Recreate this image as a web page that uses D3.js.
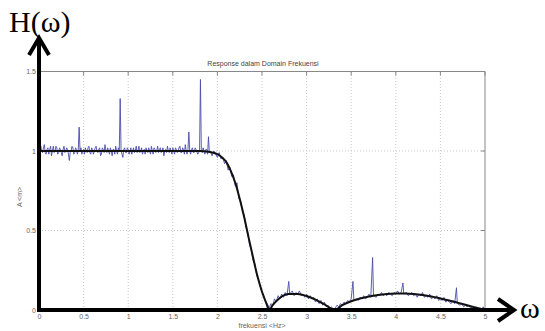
<!DOCTYPE html>
<html>
<head>
<meta charset="utf-8">
<script src="https://cdn.jsdelivr.net/npm/d3@7"></script>
<style>
  body { margin: 0; background: #fff; }
  svg { display: block; }
  .tick text { fill: #666; font-family: Arial, "Liberation Sans", sans-serif; font-size: 7px; }
</style>
</head>
<body>
<div class="chart"></div>
<script>
// tick values
const xTicks = [0, 0.5, 1, 1.5, 2, 2.5, 3, 3.5, 4, 4.5, 5];
const yTicks = [0, 0.5, 1, 1.5];

// smooth (filtered) response, [frekuensi, A]
const smoothResponse = [
  [0, 1], [0.5, 1], [1, 1], [1.5, 1], [1.8, 1.0], [1.9, 0.995], [2.0, 0.98], [2.05, 0.96],
  [2.1, 0.93], [2.15, 0.875], [2.2, 0.8], [2.25, 0.7], [2.3, 0.585], [2.35, 0.455], [2.4, 0.33],
  [2.45, 0.21], [2.5, 0.115], [2.55, 0.04], [2.58, 0.0], [2.62, 0.03], [2.7, 0.075], [2.8, 0.1],
  [2.9, 0.1], [3.0, 0.088], [3.1, 0.065], [3.2, 0.035], [3.32, 0], [3.4, 0.03], [3.5, 0.055],
  [3.6, 0.072], [3.7, 0.085], [3.8, 0.094], [3.9, 0.1], [4.0, 0.103], [4.1, 0.103], [4.2, 0.1],
  [4.3, 0.094], [4.4, 0.085], [4.5, 0.073], [4.6, 0.06], [4.7, 0.045], [4.8, 0.03], [4.9, 0.015], [5, 0]
];

// noisy measured response, [frekuensi, A]
const noisyResponse = [
  [0.00,1.00],[0.01,0.97],[0.02,1.03],[0.03,1.00],[0.04,0.99],[0.05,1.02],[0.06,1.04],[0.07,0.99],
  [0.08,0.98],[0.09,1.01],[0.10,1.02],[0.11,0.98],[0.12,1.01],[0.13,1.03],[0.14,0.97],[0.15,1.00],
  [0.16,1.03],[0.17,0.99],[0.18,1.00],[0.19,1.03],[0.20,1.02],[0.21,0.98],[0.22,0.99],[0.23,1.02],
  [0.24,1.01],[0.25,0.99],[0.26,0.97],[0.27,1.01],[0.28,1.03],[0.29,0.99],[0.30,1.00],[0.31,1.02],
  [0.32,1.01],[0.33,0.98],[0.34,0.94],[0.35,0.99],[0.36,1.00],[0.37,1.03],[0.38,1.02],[0.39,0.98],
  [0.40,0.99],[0.41,1.02],[0.42,1.01],[0.43,0.98],[0.44,1.00],[0.45,1.15],[0.46,1.00],[0.47,1.02],
  [0.48,0.98],[0.49,1.00],[0.50,1.01],[0.51,0.98],[0.52,1.02],[0.53,1.00],[0.54,0.99],[0.55,1.02],
  [0.56,1.03],[0.57,0.99],[0.58,0.98],[0.59,1.02],[0.60,1.01],[0.61,0.98],[0.62,1.00],[0.63,1.02],
  [0.64,1.03],[0.65,1.00],[0.66,0.99],[0.67,1.01],[0.68,1.02],[0.69,0.97],[0.70,0.98],[0.71,1.02],
  [0.72,1.01],[0.73,0.99],[0.74,1.04],[0.75,1.00],[0.76,0.99],[0.77,1.02],[0.78,1.00],[0.79,0.98],
  [0.80,1.02],[0.81,1.00],[0.82,0.97],[0.83,1.01],[0.84,1.01],[0.85,0.98],[0.86,1.03],[0.87,1.00],
  [0.88,0.98],[0.89,1.02],[0.90,1.00],[0.91,1.33],[0.92,1.00],[0.93,0.98],[0.94,0.96],[0.95,1.01],
  [0.96,1.02],[0.97,0.99],[0.98,0.99],[0.99,1.02],[1.00,1.01],[1.01,0.98],[1.02,1.00],[1.03,1.02],
  [1.04,0.98],[1.05,1.00],[1.06,1.02],[1.07,0.99],[1.08,1.00],[1.09,1.03],[1.10,0.99],[1.11,1.00],
  [1.12,1.03],[1.13,0.99],[1.14,1.00],[1.15,1.02],[1.16,0.98],[1.17,1.00],[1.18,1.01],[1.19,0.98],
  [1.20,1.02],[1.21,1.00],[1.22,0.99],[1.23,1.02],[1.24,1.00],[1.25,0.98],[1.26,1.03],[1.27,1.00],
  [1.28,0.98],[1.29,1.02],[1.30,1.01],[1.31,0.99],[1.32,1.00],[1.33,1.03],[1.34,0.99],[1.35,1.01],
  [1.36,1.02],[1.37,0.99],[1.38,1.00],[1.39,1.02],[1.40,0.97],[1.41,1.00],[1.42,1.01],[1.43,0.99],
  [1.44,1.03],[1.45,1.00],[1.46,0.99],[1.47,1.02],[1.48,1.00],[1.49,0.98],[1.50,1.02],[1.51,1.00],
  [1.52,0.98],[1.53,1.02],[1.54,1.01],[1.55,0.99],[1.56,1.00],[1.57,1.02],[1.58,1.03],[1.59,0.99],
  [1.60,0.99],[1.61,1.02],[1.62,1.01],[1.63,0.98],[1.64,1.04],[1.65,1.00],[1.66,0.98],[1.67,1.01],
  [1.68,1.12],[1.69,1.00],[1.70,0.98],[1.71,1.01],[1.72,1.02],[1.73,0.99],[1.74,0.99],[1.75,1.02],
  [1.76,1.01],[1.78,0.98],[1.80,1.00],[1.81,1.45],[1.82,1.00],[1.83,0.99],[1.84,1.02],[1.85,1.00],
  [1.86,0.98],[1.87,1.01],[1.88,1.01],[1.89,0.98],[1.90,1.09],[1.91,0.99],[1.92,1.00],[1.94,0.97],
  [1.96,1.00],[1.98,0.98],[2.00,0.96],[2.02,0.99],
  [2.04,0.95],[2.06,0.96],[2.08,0.92],[2.10,0.94],[2.12,0.88],[2.14,0.90],[2.16,0.84],[2.18,0.85],
  [2.20,0.78],[2.22,0.80],[2.24,0.70],[2.26,0.69],[2.28,0.62],[2.30,0.60],[2.32,0.52],[2.34,0.49],
  [2.36,0.41],[2.38,0.38],[2.40,0.31],[2.42,0.29],[2.44,0.22],[2.46,0.19],[2.48,0.15],[2.50,0.11],
  [2.52,0.09],[2.54,0.05],[2.56,0.04],[2.58,0.01],[2.60,0.04],[2.62,0.03],[2.64,0.07],[2.66,0.05],
  [2.68,0.09],[2.70,0.07],[2.72,0.10],[2.74,0.08],[2.76,0.11],[2.78,0.09],[2.80,0.18],[2.81,0.10],
  [2.84,0.12],[2.86,0.09],[2.88,0.11],[2.90,0.10],[2.92,0.12],[2.94,0.09],[2.96,0.10],[2.98,0.08],
  [3.00,0.10],[3.02,0.07],[3.04,0.09],[3.06,0.07],[3.08,0.08],[3.10,0.05],[3.12,0.07],[3.14,0.04],
  [3.16,0.06],[3.18,0.03],[3.20,0.05],[3.22,0.02],[3.24,0.03],[3.26,0.01],[3.28,0.02],[3.30,0.00],
  [3.32,0.01],[3.34,0.03],[3.36,0.02],[3.38,0.04],[3.40,0.03],[3.42,0.05],[3.44,0.04],[3.46,0.06],
  [3.48,0.05],[3.50,0.07],[3.52,0.18],[3.53,0.06],[3.56,0.07],[3.58,0.06],[3.60,0.08],[3.62,0.07],
  [3.64,0.09],[3.66,0.07],[3.68,0.08],[3.70,0.10],[3.72,0.08],[3.74,0.33],[3.75,0.09],[3.78,0.08],
  [3.80,0.10],[3.82,0.09],[3.84,0.11],[3.86,0.09],[3.88,0.10],[3.90,0.09],[3.92,0.11],[3.94,0.10],
  [3.96,0.09],[3.98,0.11],[4.00,0.10],[4.02,0.12],[4.04,0.10],[4.06,0.11],[4.08,0.17],[4.09,0.10],
  [4.12,0.11],[4.14,0.09],[4.16,0.10],[4.18,0.11],[4.20,0.09],[4.22,0.10],[4.24,0.08],[4.26,0.10],
  [4.28,0.09],[4.30,0.11],[4.32,0.08],[4.34,0.09],[4.36,0.08],[4.38,0.10],[4.40,0.07],[4.42,0.08],
  [4.44,0.07],[4.46,0.09],[4.48,0.06],[4.50,0.07],[4.52,0.06],[4.54,0.08],[4.56,0.05],[4.58,0.06],
  [4.60,0.05],[4.62,0.04],[4.64,0.06],[4.66,0.04],[4.68,0.14],[4.69,0.04],[4.72,0.03],[4.74,0.04],
  [4.76,0.02],[4.78,0.03],[4.80,0.02],[4.82,0.03],[4.84,0.01],[4.86,0.02],[4.88,0.01],[4.90,0.02],
  [4.92,0.01],[4.94,0.01],[4.96,0.00],[4.98,0.02],[5.00,0.00]
];

const svg = d3.select('.chart').append('svg')
  .attr('width', 545)
  .attr('height', 331);

const x = d3.scaleLinear().domain([0, 5]).range([39, 485]);
const y = d3.scaleLinear().domain([0, 1.5]).range([310, 71.5]);

// grid
svg.append('g').selectAll('line')
  .data(xTicks.slice(1, -1))
  .enter().append('line')
  .attr('x1', d => x(d)).attr('x2', d => x(d))
  .attr('y1', y(0)).attr('y2', y(1.5))
  .attr('stroke', '#c8c8c8').attr('stroke-dasharray', '1,2');
svg.append('g').selectAll('line')
  .data([0.5, 1])
  .enter().append('line')
  .attr('x1', x(0)).attr('x2', x(5))
  .attr('y1', d => y(d)).attr('y2', d => y(d))
  .attr('stroke', '#c8c8c8').attr('stroke-dasharray', '1,2');

// box frame (top/right)
svg.append('path')
  .attr('d', `M${x(0)},${y(1.5)}H${x(5)}V${y(0)}`)
  .attr('fill', 'none').attr('stroke', '#888').attr('stroke-width', 1);

// axes with labels
svg.append('g')
  .attr('transform', `translate(0,${y(0)})`)
  .style('color', '#666')
  .call(d3.axisBottom(x).tickValues(xTicks).tickFormat(d3.format('')).tickSize(0).tickPadding(4))
  .call(g => g.select('.domain').remove());
svg.append('g')
  .attr('transform', `translate(${x(0)},0)`)
  .style('color', '#666')
  .call(d3.axisLeft(y).tickValues(yTicks).tickFormat(d3.format('')).tickSize(0).tickPadding(3))
  .call(g => g.select('.domain').remove());

// inward ticks on top and right
svg.append('g').selectAll('line')
  .data(xTicks)
  .enter().append('line')
  .attr('x1', d => x(d)).attr('x2', d => x(d))
  .attr('y1', y(1.5)).attr('y2', y(1.5) + 4)
  .attr('stroke', '#888');
svg.append('g').selectAll('line')
  .data(yTicks)
  .enter().append('line')
  .attr('x1', x(5)).attr('x2', x(5) - 4)
  .attr('y1', d => y(d)).attr('y2', d => y(d))
  .attr('stroke', '#888');

// noisy trace
svg.append('path')
  .datum(noisyResponse)
  .attr('fill', 'none')
  .attr('stroke', '#4c4cac')
  .attr('stroke-width', 0.9)
  .attr('d', d3.line().x(d => x(d[0])).y(d => y(d[1])));

// smooth trace
svg.append('path')
  .datum(smoothResponse)
  .attr('fill', 'none')
  .attr('stroke', '#111')
  .attr('stroke-width', 2)
  .attr('d', d3.line().x(d => x(d[0])).y(d => y(d[1])).curve(d3.curveMonotoneX));

// thick arrow axes
const arrow = svg.append('g').attr('fill', 'none').attr('stroke', '#000').attr('stroke-width', 4);
arrow.append('path').attr('d', `M${x(0)},${y(0) + 2}V38`);
arrow.append('path').attr('d', `M29,55L${x(0)},38L49,55`);
arrow.append('path').attr('d', `M${x(0) - 2},${y(0)}H514`);
arrow.append('path').attr('d', `M498,299L514,${y(0)}L498,321`);

// texts
const small = 'Arial, "Liberation Sans", sans-serif';
svg.append('text')
  .attr('x', 263).attr('y', 66)
  .attr('text-anchor', 'middle')
  .style('font-family', small).style('font-size', '7px').attr('fill', '#444')
  .text('Response dalam Domain Frekuensi');
svg.append('text')
  .attr('x', 262).attr('y', 328)
  .attr('text-anchor', 'middle')
  .style('font-family', small).style('font-size', '7px').attr('fill', '#666')
  .text('frekuensi <Hz>');
svg.append('text')
  .attr('transform', 'translate(22,197) rotate(-90)')
  .attr('text-anchor', 'middle')
  .style('font-family', small).style('font-size', '7px').attr('fill', '#666')
  .text('A <m>');

svg.append('text')
  .attr('x', 9).attr('y', 32)
  .style('font-family', '"Liberation Serif", "Times New Roman", serif').style('font-size', '30px')
  .attr('fill', '#000')
  .text('H(ω)');
svg.append('text')
  .attr('x', 520).attr('y', 318)
  .style('font-family', '"Liberation Serif", "Times New Roman", serif').style('font-size', '30px')
  .attr('fill', '#000')
  .text('ω');
</script>
</body>
</html>
